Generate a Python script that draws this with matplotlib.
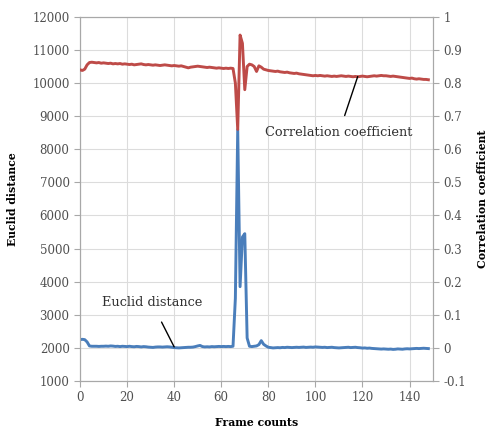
import numpy as np
import matplotlib
matplotlib.use('Agg')
import matplotlib.pyplot as plt
from matplotlib.ticker import FuncFormatter

plt.rcParams['font.family'] = 'DejaVu Serif'
plt.rcParams['axes.unicode_minus'] = False

# frame numbers 0..148
frames = list(range(149))

# Euclid distance (left axis)
euclid = [2250, 2260, 2250, 2180, 2060, 2050, 2050, 2050, 2045, 2050,
          2050, 2055, 2050, 2060, 2055, 2045, 2050, 2040, 2050, 2045,
          2040, 2050, 2040, 2035, 2045, 2040, 2030, 2040, 2035, 2025,
          2020, 2015, 2025, 2030, 2030, 2025, 2030, 2035, 2030, 2020,
          2010, 2005, 2000, 2005, 2010, 2015, 2020, 2020, 2025, 2040,
          2060, 2075, 2040, 2030, 2035, 2030, 2040, 2035, 2040, 2045,
          2040, 2045, 2040, 2045, 2040, 2050, 3500, 8600, 3850, 5350,
          5450, 2300, 2050, 2040, 2050, 2060, 2100, 2220, 2110, 2060,
          2020, 2010, 2000, 2005, 2010, 2005, 2015, 2010, 2020, 2015,
          2010, 2015, 2020, 2015, 2020, 2025, 2015, 2020, 2025, 2020,
          2030, 2025, 2020, 2015, 2020, 2010, 2015, 2020, 2010, 2005,
          2000, 2005, 2010, 2015, 2020, 2010, 2015, 2020, 2010, 2005,
          1995, 2000, 1990, 1995, 1985, 1980, 1975, 1970, 1965, 1970,
          1965, 1960, 1965, 1955, 1960, 1970, 1965, 1960, 1970, 1975,
          1970, 1975, 1980, 1985, 1980, 1985, 1990, 1985, 1980]

# Correlation coefficient (right axis)
corr = [0.840, 0.838, 0.842, 0.855, 0.862, 0.863, 0.862, 0.861, 0.862, 0.860,
        0.861, 0.860, 0.859, 0.860, 0.858, 0.859, 0.858, 0.859, 0.857, 0.858,
        0.857, 0.856, 0.857, 0.855, 0.856, 0.857, 0.858, 0.856, 0.855, 0.856,
        0.855, 0.854, 0.855, 0.854, 0.853, 0.854, 0.855, 0.854, 0.853, 0.852,
        0.853, 0.852, 0.851, 0.852, 0.850, 0.848, 0.846, 0.848, 0.849, 0.850,
        0.851, 0.850, 0.849, 0.848, 0.847, 0.848, 0.847, 0.846, 0.845, 0.846,
        0.845, 0.844, 0.845, 0.844, 0.845, 0.844, 0.800, 0.660, 0.945, 0.920,
        0.780, 0.850, 0.857, 0.855, 0.850, 0.835, 0.852, 0.848, 0.842, 0.840,
        0.838, 0.837, 0.836, 0.835, 0.836, 0.834, 0.833, 0.832, 0.833, 0.831,
        0.830, 0.829, 0.830, 0.828, 0.827, 0.826, 0.825, 0.824, 0.823, 0.822,
        0.823, 0.822, 0.823, 0.822, 0.821, 0.822, 0.821, 0.820, 0.821, 0.820,
        0.821, 0.822, 0.821, 0.820, 0.821, 0.820, 0.819, 0.820, 0.819, 0.820,
        0.821, 0.820, 0.819, 0.820, 0.821, 0.822, 0.821, 0.822, 0.823, 0.822,
        0.822, 0.821, 0.820, 0.821, 0.820, 0.819, 0.818, 0.817, 0.816, 0.815,
        0.814, 0.815, 0.813, 0.812, 0.813, 0.812, 0.811, 0.811, 0.810]

blue = '#4A7EBB'
red = '#BE4B48'
spine_col = '#A8A8A8'
grid_col = '#DCDCDC'

fig = plt.figure(figsize=(4.91, 4.32), dpi=100)
ax = fig.add_axes([0.163, 0.118, 0.719, 0.843])
ax2 = ax.twinx()

ax.plot(frames, euclid, color=blue, lw=2.1, zorder=3)
ax2.plot(frames, corr, color=red, lw=2.1, zorder=3)

ax.set_xlim(0, 150)
ax.set_ylim(1000, 12000)
ax2.set_ylim(-0.1, 1.0)
ax.set_xticks(range(0, 141, 20))
ax.set_yticks(range(1000, 12001, 1000))
ax2.set_yticks(np.linspace(-0.1, 1.0, 12))
ax2.yaxis.set_major_formatter(FuncFormatter(lambda v, p: '%g' % round(v, 1)))

ax.grid(True, color=grid_col, lw=0.8)
ax.set_axisbelow(True)
for a in (ax, ax2):
    for s in a.spines.values():
        s.set_color(spine_col)
        s.set_linewidth(0.8)
    a.tick_params(colors=spine_col, labelcolor='#505050', labelsize=8.5, length=4, width=0.8)

ax.set_ylabel('Euclid distance', fontsize=7.8, fontweight='bold', labelpad=10)
ax2.set_ylabel('Correlation coefficient', fontsize=7.8, fontweight='bold', labelpad=8)
ax.set_xlabel('Frame counts', fontsize=7.8, fontweight='bold', labelpad=9)

# callouts
ax2.annotate('Correlation coefficient', xy=(118, 0.82), xytext=(110, 0.65),
             ha='center', va='center', fontsize=9.3, color='#303030',
             arrowprops=dict(arrowstyle='-', color='black', lw=1, shrinkA=6, shrinkB=0))
ax.annotate('Euclid distance', xy=(40, 2030), xytext=(30.5, 3360),
            ha='center', va='center', fontsize=9.3, color='#303030',
            arrowprops=dict(arrowstyle='-', color='black', lw=1, shrinkA=8, shrinkB=0))

fig.savefig('out.png', dpi=100)
